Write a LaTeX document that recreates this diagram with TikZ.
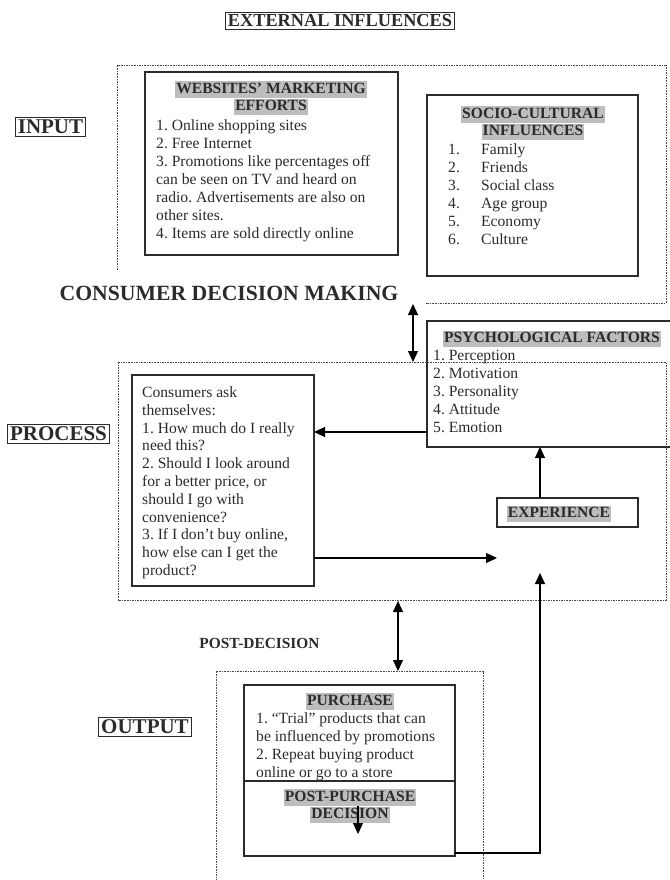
\documentclass[tikz,border=0pt]{standalone}
\usepackage{fontspec}
\setmainfont{Liberation Serif}
\usetikzlibrary{arrows.meta}
\definecolor{ink}{HTML}{2B2B2B}
\definecolor{hlgray}{HTML}{BDBDBD}
\definecolor{dotc}{HTML}{4A4A4A}
\newcommand\hlb[1]{{\setlength{\fboxsep}{1pt}\colorbox{hlgray}{\rule[-3.5pt]{0pt}{14.5pt}#1}}}
\newcommand\numit[2]{\makebox[33pt][l]{#1}#2}
\frenchspacing
\begin{document}
\begin{tikzpicture}[x=1pt,y=-1pt,
 bx/.style={draw=ink, line width=1.2pt, inner sep=0pt, outer sep=0pt, anchor=north west},
 lbl/.style={draw=ink, line width=0.8pt, font=\bfseries\fontsize{21}{24}\selectfont, text=ink, inner sep=2.5pt},
 dotb/.style={draw=dotc, line width=1pt, dash pattern=on 1.6pt off 1pt},
 arr/.style={-{Triangle[length=11pt,width=10pt]}, line width=1.1pt, draw=black},
 darr/.style={{Triangle[length=11pt,width=10pt]}-{Triangle[length=11pt,width=10pt]}, line width=1.1pt, draw=black},
 body/.style={anchor=north west, align=left, inner sep=0pt, font=\fontsize{15.6}{18}\selectfont, text=ink},
 head/.style={anchor=north, align=center, inner sep=0pt, font=\bfseries\fontsize{15.6}{18}\selectfont, text=ink}]

\useasboundingbox (0,0) rectangle (669,880);
\fill[white] (0,0) rectangle (669,880);

% titles
\node[draw=ink, line width=0.8pt, font=\bfseries\fontsize{18.3}{20}\selectfont, text=ink, inner sep=2.5pt] (ext) at (340,21) {EXTERNAL INFLUENCES};
\node[lbl] (inp) at (50.5,127) {INPUT};
\node[lbl] (proc) at (58.5,434) {PROCESS};
\node[lbl] (outp) at (145,727) {OUTPUT};
\node[font=\bfseries\fontsize{21.7}{24}\selectfont, text=ink, inner sep=0pt] (cdm) at (229,293) {CONSUMER DECISION MAKING};
\node[font=\bfseries\fontsize{15.4}{18}\selectfont, text=ink, inner sep=0pt] (postd) at (259.5,643) {POST-DECISION};

% dotted groups
\draw[dotb] (117,270) -- (117,66) -- (666,66) -- (666,303) -- (426,303);
\coordinate (inbot) at (413,304);
\draw[dotb] (118,362) rectangle (666,600);
\coordinate (proctop) at (413,362);
\coordinate (procbot) at (398,601);
\draw[dotb] (216,881) -- (216,671) -- (483,671) -- (483,881);
\coordinate (outtop) at (398,671);

% websites box
\node[bx, minimum width=253pt, minimum height=183pt] (web) at (145,72) {};
\node[head] (webh) at (271,81) {\hlb{WEBSITES’ MARKETING}\\[-0.5pt]\hlb{EFFORTS}};
\node[body] (webt) at (156,119.5) {1. Online shopping sites\\2. Free Internet\\3. Promotions like percentages off\\can be seen on TV and heard on\\radio. Advertisements are also on\\other sites.\\4. Items are sold directly online};

% socio box
\node[bx, minimum width=211pt, minimum height=181pt] (soc) at (427,95) {};
\node[head] (soch) at (533,106) {\hlb{SOCIO-CULTURAL}\\[-0.5pt]\hlb{INFLUENCES}};
\node[body] (soct) at (448,143) {\numit{1.}{Family}\\\numit{2.}{Friends}\\\numit{3.}{Social class}\\\numit{4.}{Age group}\\\numit{5.}{Economy}\\\numit{6.}{Culture}};

% psych box
\node[bx, minimum width=245pt, minimum height=126pt] (psy) at (427,321) {};
\node[head] (psyh) at (552,330.5) {\hlb{PSYCHOLOGICAL FACTORS}};
\node[body] (psyt) at (433,350) {1. Perception\\2. Motivation\\3. Personality\\4. Attitude\\5. Emotion};

% consumers box
\node[bx, minimum width=182pt, minimum height=211pt] (cons) at (132,375) {};
\node[body, font=\fontsize{15.6}{17.8}\selectfont] (const) at (142,386.5) {Consumers ask\\themselves:\\1. How much do I really\\need this?\\2. Should I look around\\for a better price, or\\should I go with\\convenience?\\3. If I don’t buy online,\\how else can I get the\\product?};

% experience box
\node[bx, minimum width=141pt, minimum height=29pt] (exp) at (497,498) {};
\node[font=\bfseries\fontsize{15.6}{18}\selectfont, text=ink, inner sep=0pt] (expt) at (559,514) {\hlb{EXPERIENCE}};
\coordinate (expin) at (497,558);

% purchase box
\node[bx, minimum width=211pt, minimum height=171pt] (pur) at (244,685) {};
\draw[ink, line width=1.2pt] (244,781) -- (455,781);
\node[head] (purh) at (350,693) {\hlb{PURCHASE}};
\node[body] (purt) at (256,712) {1. “Trial” products that can\\be influenced by promotions\\2. Repeat buying product\\online or go to a store};
\node[head] (ppd) at (350,789) {\hlb{POST-PURCHASE}\\[-0.5pt]\hlb{DECISION}};
\coordinate (ppa) at (358,806);
\coordinate (ppb) at (358,834);
\coordinate (rt) at (540,853);
\coordinate (rtop) at (540,573);

% connectors
\draw[darr] (inbot) -- (proctop);
\draw[arr] (psy.west |- 0,432) -- (cons.east |- 0,432);
\draw[arr] (exp.north -| 540,0) -- (psy.south -| 540,0);
\draw[arr] (cons.east |- 0,558) -- (expin);
\draw[arr] (pur.east |- rt) -- (rt) -- (rtop);
\draw[darr] (procbot) -- (outtop);
\draw[arr] (ppa) -- (ppb);
\end{tikzpicture}
\end{document}
